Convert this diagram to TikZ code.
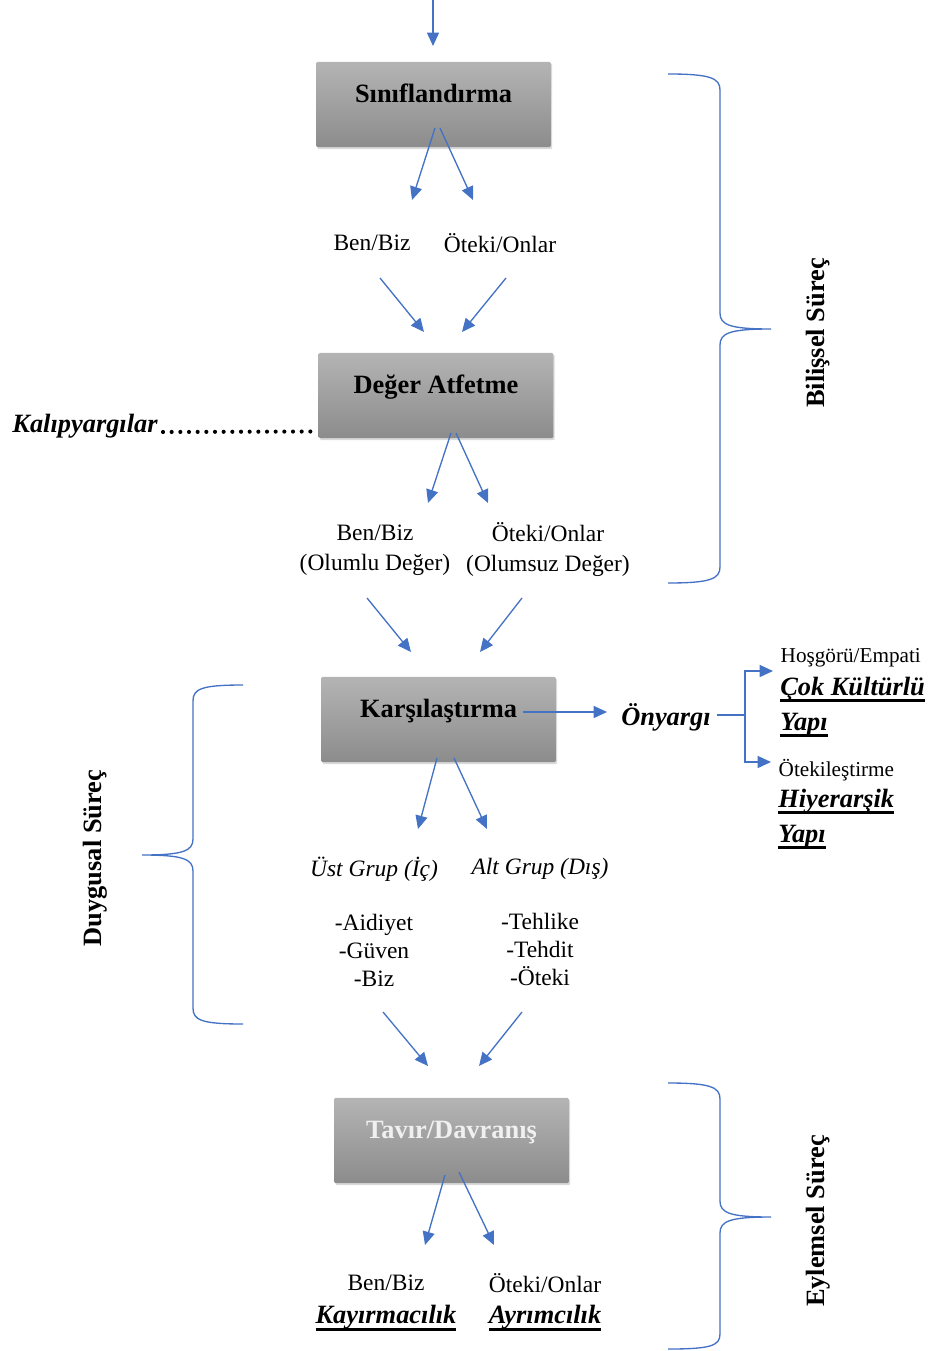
\documentclass[tikz,border=0pt]{standalone}
\usepackage{fontspec}
\setmainfont{Liberation Serif}
\usepackage{tikz}
\usetikzlibrary{arrows.meta,positioning,shadows}
\definecolor{okmavi}{RGB}{68,114,196}
\definecolor{kutuust}{RGB}{180,180,180}
\definecolor{kutualt}{RGB}{140,140,140}
\newcommand\buyuk{\fontsize{19.8}{24}\selectfont}
\newcommand\orta{\fontsize{17.6}{22.5}\selectfont}
\newcommand\kucuk{\fontsize{15.9}{19}\selectfont}
\newcommand\altcizgi[1]{\setbox0\hbox{#1}\rlap{\rule[-5pt]{\wd0}{2.2pt}}\box0}
\tikzset{
    %Define standard arrow tip
    >={Triangle[length=10pt,width=9pt]},
    %Define style for boxes
    kutu/.style={
           rectangle,
           rounded corners=1pt,
           top color=kutuust, bottom color=kutualt,
           drop shadow={shadow xshift=1pt,shadow yshift=-1.5pt,opacity=0.3},
           minimum width=176pt,
           minimum height=64pt,
           text height=14pt, text depth=17.6pt,
           font=\buyuk\bfseries},
    % Define text style
    yazi/.style={
           font=\orta,
           align=center},
    % Define arrow style
    ok/.style={
           ->,
           draw=okmavi,
           line width=1pt},
    parantez/.style={
           draw=okmavi,
           line width=1pt},
    baslik/.style={
           font=\buyuk\bfseries,
           rotate=90},
    noktali/.style={
           dash pattern=on 0pt off 6.5pt,
           line cap=round,
           line width=3.1pt}
}
\begin{document}
\begin{tikzpicture}[x=0.75pt, y=-0.75pt]
\useasboundingbox (0,0) rectangle (935,1351);
% boxes
\node[kutu](sinif) at (433.5,104.5){Sınıflandırma};
\node[kutu](deger) at (436,395.5){Değer Atfetme};
\node[kutu](karsi) at (438.5,719.5){Karşılaştırma};
\node[kutu,text=white!94!black](tavir) at (451.5,1140.5){Tavır/Davranış};
% texts
\coordinate (giris) at (433,0);
\node[yazi](bb1) at (372,243){Ben/Biz};
\node[yazi](ob1) at (500,243){Öteki/Onlar};
\node[yazi](bb2) at (375,550){Ben/Biz\\(Olumlu Değer)};
\node[yazi](ob2) at (548,550){Öteki/Onlar\\(Olumsuz Değer)};
\node[font=\buyuk\bfseries\itshape](kalip) at (85,426){Kalıpyargılar};
\node[font=\buyuk\bfseries\itshape](ony) at (666,717){Önyargı};
\node[font=\kucuk,anchor=west](hos) at (776,658){Hoşgörü/Empati};
\node[font=\buyuk\bfseries\itshape,align=left,anchor=north west,inner sep=0pt](cok)
  at (780,677){\altcizgi{Çok Kültürlü}\\[2pt]\altcizgi{Yapı}};
\node[font=\kucuk,anchor=west](ote) at (774,770){Ötekileştirme};
\node[font=\buyuk\bfseries\itshape,align=left,anchor=north west,inner sep=0pt](hiy)
  at (778,789){\altcizgi{Hiyerarşik}\\[2pt]\altcizgi{Yapı}};
\node[yazi,font=\orta\itshape](ust) at (374,869){Üst Grup (İç)};
\node[yazi,font=\orta\itshape](alt) at (540,869){Alt Grup (Dış)};
\node[yazi,font=\fontsize{17.6}{21}\selectfont](ozu) at (374,950){-Aidiyet\\-Güven\\-Biz};
\node[yazi,font=\fontsize{17.6}{21}\selectfont](oza) at (540,949){-Tehlike\\-Tehdit\\-Öteki};
\node[yazi](bb4) at (386,1283){Ben/Biz};
\node[yazi](ob4) at (545,1283){Öteki/Onlar};
\node[font=\buyuk\bfseries\itshape](kay) at (386,1318){\altcizgi{Kayırmacılık}};
\node[font=\buyuk\bfseries\itshape](ayr) at (545,1318){\altcizgi{Ayrımcılık}};
\node[baslik](bil) at (818,333){Bilişsel Süreç};
\node[baslik](duy) at (95,858){Duygusal Süreç};
\node[baslik](eyl) at (818,1221){Eylemsel Süreç};
% arrows
\draw[ok](giris)--([shift={(-0.5,-58.5)}]sinif.center);
\draw[ok]([shift={(1.5,23.5)}]sinif.center)--([shift={(40,-43)}]bb1.center);
\draw[ok]([shift={(6.5,23.5)}]sinif.center)--([shift={(-27,-43)}]ob1.center);
\draw[ok]([shift={(8,35)}]bb1.center)--([shift={(-12,-63.5)}]deger.center);
\draw[ok]([shift={(6,35)}]ob1.center)--([shift={(26,-63.5)}]deger.center);
\draw[ok]([shift={(15,37.5)}]deger.center)--([shift={(53,-47)}]bb2.center);
\draw[ok]([shift={(20,37.5)}]deger.center)--([shift={(-60,-47)}]ob2.center);
\draw[ok]([shift={(-8,48)}]bb2.center)--([shift={(-27.5,-67.5)}]karsi.center);
\draw[ok]([shift={(-26,48)}]ob2.center)--([shift={(41.5,-67.5)}]karsi.center);
\draw[ok]([shift={(84.5,-7.5)}]karsi.center)--([shift={(-59,-5)}]ony.center);
\draw[ok]([shift={(51,-2)}]ony.center)--++(28,0)|-([shift={(-3,13)}]hos.west);
\draw[ok]([shift={(79,-2)}]ony.center)|-([shift={(-3,-8)}]ote.west);
\draw[ok]([shift={(-1.5,38.5)}]karsi.center)--([shift={(44,-40)}]ust.center);
\draw[ok]([shift={(15.5,38.5)}]karsi.center)--([shift={(-53,-40)}]alt.center);
\draw[ok]([shift={(9,62)}]ozu.center)--([shift={(-23.5,-74.5)}]tavir.center);
\draw[ok]([shift={(-18,63)}]oza.center)--([shift={(27.5,-74.5)}]tavir.center);
\draw[ok]([shift={(-6.5,34.5)}]tavir.center)--([shift={(39,-38)}]bb4.center);
\draw[ok]([shift={(7.5,31.5)}]tavir.center)--([shift={(-51,-38)}]ob4.center);
% dotted line
\draw[noktali]([shift={(78,6)}]kalip.center)--([shift={(-122,36)}]deger.center);
% braces
\draw[parantez](668,74) .. controls (710,74) and (720,78) .. (720,90)--(720,313)
  .. controls (720,325) and (730,329) .. (771,329)
  .. controls (730,329) and (720,333) .. (720,345)--(720,567)
  .. controls (720,579) and (710,583) .. (668,583);
\draw[parantez](243,685) .. controls (201,685) and (193,689) .. (193,701)--(193,839)
  .. controls (193,851) and (183,855) .. (142,855)
  .. controls (183,855) and (193,859) .. (193,871)--(193,1008)
  .. controls (193,1020) and (201,1024) .. (243,1024);
\draw[parantez](668,1083) .. controls (710,1083) and (720,1087) .. (720,1099)--(720,1201)
  .. controls (720,1213) and (730,1217) .. (771,1217)
  .. controls (730,1217) and (720,1221) .. (720,1233)--(720,1334)
  .. controls (720,1346) and (710,1349) .. (668,1349);
\end{tikzpicture}
\end{document}
